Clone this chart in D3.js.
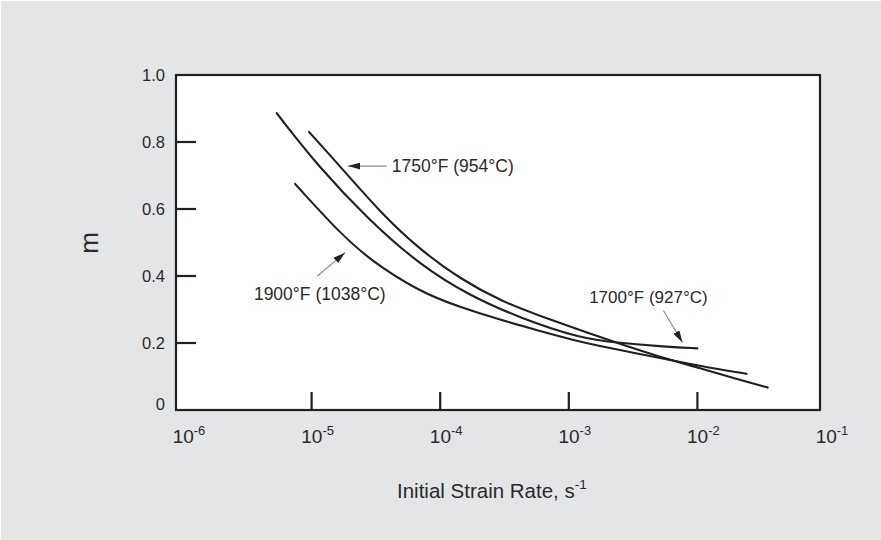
<!DOCTYPE html>
<html>
<head>
<meta charset="utf-8">
<script src="https://cdn.jsdelivr.net/npm/d3@7"></script>
<style>
  body { margin: 0; background: #ffffff; }
  svg text { font-family: "Liberation Sans", Arial, Helvetica, sans-serif; fill: #2a2a2a; }
</style>
</head>
<body>
<script>
// strain rate (1/s) and m
const rate1700 = [5.35e-6, 1.12e-5, 2.84e-5, 6.97e-5, 1.71e-4, 4.18e-4, 1.22e-3, 2.5e-3, 5.12e-3, 1.0e-2];
const m1700 = [0.886, 0.728, 0.564, 0.433, 0.340, 0.275, 0.214, 0.200, 0.190, 0.184];

const rate1750 = [9.55e-6, 1.66e-5, 3.40e-5, 6.97e-5, 1.43e-4, 3.08e-4, 5.97e-4, 1.22e-3, 2.5e-3, 5.12e-3, 1.05e-2, 2.14e-2, 3.52e-2];
const m1750 = [0.830, 0.728, 0.591, 0.478, 0.391, 0.322, 0.281, 0.239, 0.197, 0.158, 0.125, 0.090, 0.067];

const rate1900 = [7.43e-6, 1.66e-5, 2.84e-5, 6.97e-5, 1.43e-4, 2.92e-4, 5.97e-4, 1.22e-3, 2.5e-3, 5.12e-3, 1.05e-2, 2.41e-2];
const m1900 = [0.675, 0.528, 0.448, 0.352, 0.307, 0.269, 0.236, 0.203, 0.179, 0.155, 0.131, 0.108];

const yTickValues = [0, 0.2, 0.4, 0.6, 0.8, 1.0];
const xTickExponents = [-6, -5, -4, -3, -2, -1];

// annotation: text anchor and arrow (from -> tip), in data units
const labelTexts = ["1750°F (954°C)", "1900°F (1038°C)", "1700°F (927°C)"];
const labelAt = [[4.20e-5, 0.711], [3.56e-6, 0.328], [1.44e-3, 0.318]];
const arrowFrom = [[3.84e-5, 0.728], [1.11e-5, 0.400], [5.44e-3, 0.297]];
const arrowTip = [[1.92e-5, 0.728], [1.82e-5, 0.4696], [7.66e-3, 0.2015]];

const W = 881, H = 540;
const ink = "#231f20";

const svg = d3.select("body").append("svg")
    .attr("width", W)
    .attr("height", H);

// grey panel
svg.append("rect").attr("x", 1).attr("y", 1).attr("width", W - 1).attr("height", H - 1)
    .attr("fill", "#e4e5e7");

const x = d3.scaleLog().domain([1e-6, 1e-1]).range([183, 826]);
const y = d3.scaleLinear().domain([0, 1]).range([410, 75]);

const frame = { left: 176, right: 820 };

// plot area
svg.append("rect")
    .attr("x", frame.left).attr("y", y(1))
    .attr("width", frame.right - frame.left).attr("height", y(0) - y(1))
    .attr("fill", "#ffffff");

// curves
const line = d3.line()
    .x(d => x(d[0]))
    .y(d => y(d[1]))
    .curve(d3.curveBasis);

const curves = [
    d3.zip(rate1700, m1700),
    d3.zip(rate1750, m1750),
    d3.zip(rate1900, m1900)
];

svg.selectAll("path.curve")
    .data(curves)
    .enter().append("path")
    .attr("class", "curve")
    .attr("d", line)
    .attr("fill", "none")
    .attr("stroke", ink)
    .attr("stroke-width", 2.1)
    .attr("stroke-linecap", "round");

// frame on top
svg.append("rect")
    .attr("x", frame.left).attr("y", y(1))
    .attr("width", frame.right - frame.left).attr("height", y(0) - y(1))
    .attr("fill", "none")
    .attr("stroke", ink)
    .attr("stroke-width", 2.2);

// y ticks (inward)
svg.selectAll("line.ytick")
    .data(yTickValues.filter(d => d > 0 && d < 1))
    .enter().append("line")
    .attr("x1", frame.left).attr("x2", frame.left + 20)
    .attr("y1", d => y(d)).attr("y2", d => y(d))
    .attr("stroke", ink).attr("stroke-width", 2.2);

svg.selectAll("text.ylab")
    .data(yTickValues)
    .enter().append("text")
    .attr("x", 165)
    .attr("y", d => y(d) + (d === 0 ? -6 : 0))
    .attr("dy", "0.36em")
    .attr("text-anchor", "end")
    .style("font-size", "16.5px")
    .text(d => d === 0 ? "0" : d3.format(".1f")(d));

// x ticks (inward)
svg.selectAll("line.xtick")
    .data(xTickExponents.slice(1, -1))
    .enter().append("line")
    .attr("x1", d => x(Math.pow(10, d))).attr("x2", d => x(Math.pow(10, d)))
    .attr("y1", y(0)).attr("y2", y(0) - 18)
    .attr("stroke", ink).attr("stroke-width", 2.2);

const xl = svg.selectAll("text.xlab")
    .data(xTickExponents)
    .enter().append("text")
    .attr("x", d => x(Math.pow(10, d)) + 6)
    .attr("y", 443)
    .attr("text-anchor", "middle")
    .style("font-size", "19px");
xl.append("tspan").text("10");
xl.append("tspan").attr("dy", -8).style("font-size", "13px").text(d => "-" + Math.abs(d));

// axis titles
const xt = svg.append("text")
    .attr("x", 397).attr("y", 498)
    .style("font-size", "20.5px");
xt.append("tspan").text("Initial Strain Rate, s");
xt.append("tspan").attr("dy", -9).style("font-size", "13.5px").text("-1");

svg.append("text")
    .attr("transform", "translate(98,243) rotate(-90)")
    .attr("text-anchor", "middle")
    .style("font-size", "26px")
    .text("m");

// annotations
svg.append("defs").append("marker")
    .attr("id", "head")
    .attr("markerUnits", "userSpaceOnUse")
    .attr("viewBox", "0 0 12 7")
    .attr("markerWidth", 12).attr("markerHeight", 7)
    .attr("refX", 12).attr("refY", 3.5)
    .attr("orient", "auto")
    .append("path")
    .attr("d", "M0,0 L12,3.5 L0,7 Z")
    .attr("fill", ink);

labelTexts.forEach((t, i) => {
    svg.append("line")
        .attr("x1", x(arrowFrom[i][0])).attr("y1", y(arrowFrom[i][1]))
        .attr("x2", x(arrowTip[i][0])).attr("y2", y(arrowTip[i][1]))
        .attr("stroke", "#8a8a8a")
        .attr("stroke-width", 1.1)
        .attr("marker-end", "url(#head)");
    svg.append("text")
        .attr("x", x(labelAt[i][0])).attr("y", y(labelAt[i][1]))
        .style("font-size", i === 2 ? "17px" : "17.5px")
        .text(t);
});
</script>
</body>
</html>
